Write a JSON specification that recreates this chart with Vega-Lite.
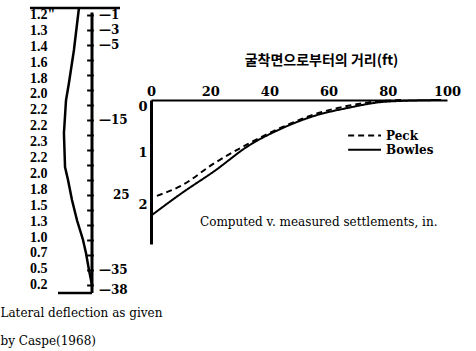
{
  "$schema": "https://vega.github.io/schema/vega-lite/v6.json",
  "width": 296,
  "height": 144,
  "autosize": {"type": "none"},
  "padding": {"left": 151, "top": 100, "right": 29, "bottom": 107},
  "background": "white",
  "config": {"view": {"stroke": null}},
  "datasets": {
    "settle": [
      {"series": "Bowles", "dist": 0, "settle": 2.21},
      {"series": "Bowles", "dist": 10.1, "settle": 1.79},
      {"series": "Bowles", "dist": 21.6, "settle": 1.35},
      {"series": "Bowles", "dist": 32.8, "settle": 0.88},
      {"series": "Bowles", "dist": 43.9, "settle": 0.55},
      {"series": "Bowles", "dist": 55.4, "settle": 0.30},
      {"series": "Bowles", "dist": 66.6, "settle": 0.15},
      {"series": "Bowles", "dist": 77.7, "settle": 0.04},
      {"series": "Bowles", "dist": 83.4, "settle": 0.02},
      {"series": "Bowles", "dist": 98, "settle": 0.0},
      {"series": "Peck", "dist": 2, "settle": 1.83},
      {"series": "Peck", "dist": 10.1, "settle": 1.64},
      {"series": "Peck", "dist": 21.6, "settle": 1.20},
      {"series": "Peck", "dist": 32.8, "settle": 0.84},
      {"series": "Peck", "dist": 43.9, "settle": 0.53},
      {"series": "Peck", "dist": 55.4, "settle": 0.27},
      {"series": "Peck", "dist": 66.6, "settle": 0.11},
      {"series": "Peck", "dist": 77.7, "settle": 0.02},
      {"series": "Peck", "dist": 85, "settle": 0.0}
    ],
    "legend": [
      {"series": "Peck", "dist": 66.6, "dist2": 77.7, "tdist": 79.4, "settle": 0.68},
      {"series": "Bowles", "dist": 66.6, "dist2": 77.7, "tdist": 79.4, "settle": 0.95}
    ],
    "caption": [
      {"dist": 16.55, "settle": 2.33, "text": "Computed v. measured settlements, in."}
    ],
    "deflcurve": [
      {"defl": 1.07, "depth": 0},
      {"defl": 1.48, "depth": 5.6},
      {"defl": 1.89, "depth": 10.0},
      {"defl": 2.13, "depth": 12.3},
      {"defl": 2.30, "depth": 16.7},
      {"defl": 2.21, "depth": 21.2},
      {"defl": 1.97, "depth": 22.9},
      {"defl": 1.64, "depth": 25.6},
      {"defl": 1.23, "depth": 28.3},
      {"defl": 0.74, "depth": 30.9},
      {"defl": 0.49, "depth": 32.7},
      {"defl": 0.25, "depth": 34.9},
      {"defl": 0.08, "depth": 36.3},
      {"defl": 0.0, "depth": 36.9}
    ],
    "segments": [
      {"kind": "frame", "defl": 5.082, "defl2": -2.295, "depth": 0, "depth2": 0},
      {"kind": "frame", "defl": 2.787, "defl2": 0, "depth": 38, "depth2": 38},
      {"kind": "axis", "defl": 0, "defl2": 0, "depth": 0.6, "depth2": 38},
      {"kind": "tick", "defl": 0.4, "defl2": -0.15, "depth": 1, "depth2": 1},
      {"kind": "tick", "defl": 0.4, "defl2": -0.15, "depth": 3, "depth2": 3},
      {"kind": "tick", "defl": 0.4, "defl2": -0.15, "depth": 5, "depth2": 5},
      {"kind": "tick", "defl": 0.4, "defl2": -0.15, "depth": 7, "depth2": 7},
      {"kind": "tick", "defl": 0.4, "defl2": -0.15, "depth": 9, "depth2": 9},
      {"kind": "tick", "defl": 0.4, "defl2": -0.15, "depth": 11, "depth2": 11},
      {"kind": "tick", "defl": 0.4, "defl2": -0.15, "depth": 13, "depth2": 13},
      {"kind": "tick", "defl": 0.4, "defl2": -0.15, "depth": 15, "depth2": 15},
      {"kind": "tick", "defl": 0.4, "defl2": -0.15, "depth": 17, "depth2": 17},
      {"kind": "tick", "defl": 0.4, "defl2": -0.15, "depth": 19, "depth2": 19},
      {"kind": "tick", "defl": 0.4, "defl2": -0.15, "depth": 21, "depth2": 21},
      {"kind": "tick", "defl": 0.4, "defl2": -0.15, "depth": 23, "depth2": 23},
      {"kind": "tick", "defl": 0.4, "defl2": -0.15, "depth": 25, "depth2": 25},
      {"kind": "tick", "defl": 0.4, "defl2": -0.15, "depth": 27, "depth2": 27},
      {"kind": "tick", "defl": 0.4, "defl2": -0.15, "depth": 29, "depth2": 29},
      {"kind": "tick", "defl": 0.4, "defl2": -0.15, "depth": 31, "depth2": 31},
      {"kind": "tick", "defl": 0.4, "defl2": -0.15, "depth": 33, "depth2": 33},
      {"kind": "tick", "defl": 0.4, "defl2": -0.15, "depth": 35, "depth2": 35},
      {"kind": "tick", "defl": 0.4, "defl2": -0.15, "depth": 37, "depth2": 37}
    ],
    "depthlabels": [
      {"defl": -0.574, "depth": 1, "label": "—1"},
      {"defl": -0.574, "depth": 3, "label": "—3"},
      {"defl": -0.574, "depth": 5, "label": "—5"},
      {"defl": -0.574, "depth": 15, "label": "—15"},
      {"defl": -1.72, "depth": 25, "label": "25"},
      {"defl": -0.574, "depth": 35, "label": "—35"},
      {"defl": -0.574, "depth": 37.6, "label": "—38"}
    ],
    "values": [
      {"defl": 5.082, "depth": 0.93, "label": "1.2\""},
      {"defl": 5.082, "depth": 3.05, "label": "1.3"},
      {"defl": 5.082, "depth": 5.17, "label": "1.4"},
      {"defl": 5.082, "depth": 7.29, "label": "1.6"},
      {"defl": 5.082, "depth": 9.41, "label": "1.8"},
      {"defl": 5.082, "depth": 11.53, "label": "2.0"},
      {"defl": 5.082, "depth": 13.65, "label": "2.2"},
      {"defl": 5.082, "depth": 15.77, "label": "2.2"},
      {"defl": 5.082, "depth": 17.89, "label": "2.3"},
      {"defl": 5.082, "depth": 20.01, "label": "2.2"},
      {"defl": 5.082, "depth": 22.13, "label": "2.0"},
      {"defl": 5.082, "depth": 24.25, "label": "1.8"},
      {"defl": 5.082, "depth": 26.37, "label": "1.5"},
      {"defl": 5.082, "depth": 28.49, "label": "1.3"},
      {"defl": 5.082, "depth": 30.61, "label": "1.0"},
      {"defl": 5.082, "depth": 32.73, "label": "0.7"},
      {"defl": 5.082, "depth": 34.85, "label": "0.5"},
      {"defl": 5.082, "depth": 36.97, "label": "0.2"}
    ],
    "notes": [
      {"defl": 7.5, "depth": 40.67, "label": "Lateral deflection as given"},
      {"defl": 7.5, "depth": 44.4, "label": "by Caspe(1968)"}
    ]
  },
  "layer": [
    {
      "layer": [
        {
          "data": {"name": "settle"},
          "mark": {"type": "line", "color": "black", "strokeWidth": 2, "interpolate": "monotone"},
          "encoding": {
            "x": {"field": "dist", "type": "quantitative",
              "scale": {"domain": [0, 100], "nice": false, "zero": false},
              "axis": {"orient": "top", "values": [0, 20, 40, 60, 80, 100], "format": "d", "ticks": false, "grid": false,
                "domainColor": "black", "domainWidth": 2, "labelFont": "DejaVu Serif", "labelFontWeight": "bold",
                "labelFontSize": 13, "labelColor": "black", "labelPadding": 2, "labelFlush": false,
                "title": "굴착면으로부터의 거리(ft)", "titleFont": "Noto Sans CJK KR", "titleFontSize": 14,
                "titleFontWeight": "bold", "titleColor": "black", "titlePadding": 18, "titleX": 170}},
            "y": {"field": "settle", "type": "quantitative",
              "scale": {"domain": [0, 2.75], "nice": false, "zero": false, "reverse": true},
              "axis": {"orient": "left", "values": [0, 1, 2], "format": "d", "ticks": false, "grid": false,
                "domainColor": "black", "domainWidth": 3, "labelFont": "DejaVu Serif", "labelFontWeight": "bold",
                "labelFontSize": 13, "labelColor": "black", "labelPadding": 4, "labelFlush": true, "title": null}},
            "strokeDash": {"field": "series", "type": "nominal",
              "scale": {"domain": ["Peck", "Bowles"], "range": [[6, 4], [1, 0]]}, "legend": null},
            "order": {"field": "dist", "type": "quantitative"}
          }
        },
        {
          "data": {"name": "legend"},
          "mark": {"type": "rule", "color": "black", "strokeWidth": 2},
          "encoding": {
            "x": {"field": "dist", "type": "quantitative", "scale": {"domain": [0, 100], "nice": false, "zero": false}},
            "x2": {"field": "dist2"},
            "y": {"field": "settle", "type": "quantitative", "scale": {"domain": [0, 2.75], "nice": false, "zero": false, "reverse": true}},
            "strokeDash": {"field": "series", "type": "nominal",
              "scale": {"domain": ["Peck", "Bowles"], "range": [[6, 4], [1, 0]]}, "legend": null}
          }
        },
        {
          "data": {"name": "legend"},
          "mark": {"type": "text", "align": "left", "baseline": "middle", "font": "DejaVu Serif", "fontWeight": "bold", "fontSize": 12, "color": "black"},
          "encoding": {
            "x": {"field": "tdist", "type": "quantitative", "scale": {"domain": [0, 100], "nice": false, "zero": false}},
            "y": {"field": "settle", "type": "quantitative", "scale": {"domain": [0, 2.75], "nice": false, "zero": false, "reverse": true}},
            "text": {"field": "series"}
          }
        },
        {
          "data": {"name": "caption"},
          "mark": {"type": "text", "align": "left", "baseline": "middle", "font": "DejaVu Serif", "fontSize": 12, "color": "black"},
          "encoding": {
            "x": {"field": "dist", "type": "quantitative", "scale": {"domain": [0, 100], "nice": false, "zero": false}},
            "y": {"field": "settle", "type": "quantitative", "scale": {"domain": [0, 2.75], "nice": false, "zero": false, "reverse": true}},
            "text": {"field": "text"}
          }
        }
      ]
    },
    {
      "layer": [
        {
          "data": {"name": "deflcurve"},
          "mark": {"type": "line", "color": "black", "strokeWidth": 2.5},
          "encoding": {
            "x": {"field": "defl", "type": "quantitative", "scale": {"domain": [-29.098, -4.836], "reverse": true, "nice": false, "zero": false}, "axis": null},
            "y": {"field": "depth", "type": "quantitative", "scale": {"domain": [12.267, 31.467], "reverse": true, "nice": false, "zero": false}, "axis": null},
            "order": {"field": "depth", "type": "quantitative"}
          }
        },
        {
          "data": {"name": "segments"},
          "mark": {"type": "rule", "color": "black"},
          "encoding": {
            "x": {"field": "defl", "type": "quantitative", "scale": {"domain": [-29.098, -4.836], "reverse": true, "nice": false, "zero": false}, "axis": null},
            "x2": {"field": "defl2"},
            "y": {"field": "depth", "type": "quantitative", "scale": {"domain": [12.267, 31.467], "reverse": true, "nice": false, "zero": false}, "axis": null},
            "y2": {"field": "depth2"},
            "strokeWidth": {"field": "kind", "type": "nominal", "scale": {"domain": ["axis", "frame", "tick"], "range": [3, 2, 1.5]}, "legend": null}
          }
        },
        {
          "data": {"name": "depthlabels"},
          "mark": {"type": "text", "align": "left", "baseline": "middle", "font": "DejaVu Serif", "fontWeight": "bold", "fontSize": 12, "color": "black"},
          "encoding": {
            "x": {"field": "defl", "type": "quantitative", "scale": {"domain": [-29.098, -4.836], "reverse": true, "nice": false, "zero": false}, "axis": null},
            "y": {"field": "depth", "type": "quantitative", "scale": {"domain": [12.267, 31.467], "reverse": true, "nice": false, "zero": false}, "axis": null},
            "text": {"field": "label"}
          }
        },
        {
          "data": {"name": "values"},
          "mark": {"type": "text", "align": "left", "baseline": "middle", "font": "Liberation Serif", "fontWeight": "bold", "fontSize": 14, "color": "black"},
          "encoding": {
            "x": {"field": "defl", "type": "quantitative", "scale": {"domain": [-29.098, -4.836], "reverse": true, "nice": false, "zero": false}, "axis": null},
            "y": {"field": "depth", "type": "quantitative", "scale": {"domain": [12.267, 31.467], "reverse": true, "nice": false, "zero": false}, "axis": null},
            "text": {"field": "label"}
          }
        },
        {
          "data": {"name": "notes"},
          "mark": {"type": "text", "align": "left", "baseline": "middle", "font": "DejaVu Serif", "fontSize": 12, "color": "black"},
          "encoding": {
            "x": {"field": "defl", "type": "quantitative", "scale": {"domain": [-29.098, -4.836], "reverse": true, "nice": false, "zero": false}, "axis": null},
            "y": {"field": "depth", "type": "quantitative", "scale": {"domain": [12.267, 31.467], "reverse": true, "nice": false, "zero": false}, "axis": null},
            "text": {"field": "label"}
          }
        }
      ]
    }
  ],
  "resolve": {
    "scale": {"x": "independent", "y": "independent", "strokeDash": "independent", "strokeWidth": "independent"},
    "axis": {"x": "independent", "y": "independent"}
  }
}
